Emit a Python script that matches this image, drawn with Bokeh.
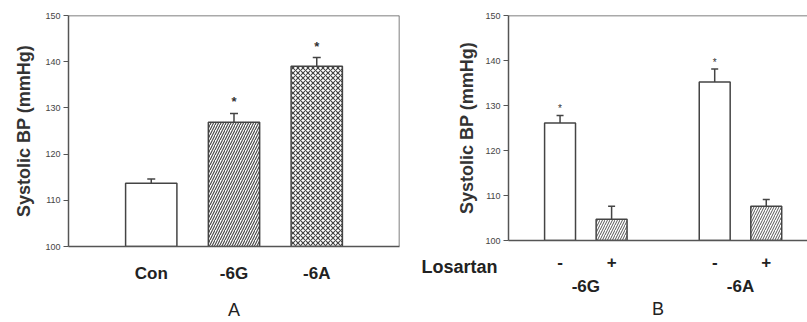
from bokeh.plotting import figure
from bokeh.layouts import row, column
from bokeh.models import (FactorRange, ColumnDataSource, Whisker, TeeHead, Span,
                          FixedTicker, Range1d, LinearAxis)
from bokeh.core.properties import value
from bokeh.embed import file_html
from bokeh.resources import INLINE

# ---- data ----
groups_a = ["Con", "-6G", "-6A"]
bp_a = [113.7, 126.9, 139.0]
err_a = [0.9, 1.9, 1.9]
sig_a = ["", "*", "*"]
hatch_a = [" ", "/", "x"]

genes_b = ["-6G", "-6G", "-6A", "-6A"]
losartan_b = ["-", "+", "-", "+"]
bp_b = [126.1, 104.7, 135.2, 107.6]
err_b = [1.7, 2.9, 2.9, 1.5]
sig_b = ["*", "", "*", ""]
hatch_b = [" ", "/", " ", "/"]
treatment_label = "Losartan"

y_ticks = [100, 110, 120, 130, 140, 150]

FONT = "Liberation Sans"
AXC = "#555555"


def style(p):
    p.outline_line_color = None
    p.xgrid.grid_line_color = None
    p.ygrid.grid_line_color = None
    p.yaxis.ticker = FixedTicker(ticks=y_ticks)
    p.yaxis.minor_tick_line_color = None
    p.yaxis.major_tick_out = 5
    p.yaxis.major_tick_in = 0
    p.yaxis.major_label_text_font = FONT
    p.yaxis.major_label_text_font_size = "9px"
    p.yaxis.major_label_text_color = "#444444"
    p.yaxis.major_label_standoff = 3
    p.yaxis.axis_label = "Systolic BP (mmHg)"
    p.yaxis.axis_label_text_font = FONT
    p.yaxis.axis_label_text_font_size = "18px"
    p.yaxis.axis_label_text_font_style = "bold"
    p.yaxis.axis_label_text_color = "#333333"
    p.yaxis.axis_label_standoff = 5
    for ax in (p.xaxis, p.yaxis):
        ax.axis_line_color = AXC
        ax.axis_line_width = 1.5
        ax.major_tick_line_color = AXC
    p.xaxis.major_tick_line_color = None
    p.xaxis.major_tick_out = 0
    p.xaxis.minor_tick_line_color = None
    p.xaxis.major_label_text_font = FONT
    p.xaxis.major_label_text_font_size = "17px"
    p.xaxis.major_label_text_font_style = "bold"
    p.xaxis.major_label_text_color = "#222222"
    p.xaxis.axis_label_text_font = FONT
    p.xaxis.axis_label_text_font_size = "18px"
    p.xaxis.axis_label_text_font_style = "normal"
    p.xaxis.axis_label_text_color = "#222222"


# ---- panel A ----
src_a = ColumnDataSource(dict(x=groups_a, top=bp_a,
                              up=[b + e for b, e in zip(bp_a, err_a)],
                              sig=sig_a, hatch=hatch_a))
pa = figure(x_range=FactorRange(*groups_a, range_padding=0.5, range_padding_units="absolute"),
            y_range=(100, 150), width=400, height=322,
            min_border_left=68, min_border_right=1, min_border_top=15, min_border_bottom=75,
            output_backend="svg", toolbar_location=None)
pa.vbar(x="x", top="top", bottom=100, width=0.62, source=src_a,
        fill_color="white", line_color="#444444", line_width=1.5,
        hatch_pattern="hatch", hatch_color="#444444", hatch_scale=5, hatch_weight=1.1)
pa.add_layout(Whisker(base="x", lower="top", upper="up", source=src_a,
                      line_color="#444444", line_width=1.5,
                      upper_head=TeeHead(size=8, line_color="#444444", line_width=1.5),
                      lower_head=None))
pa.text(x="x", y="up", text="sig", source=src_a, text_align="center", text_baseline="bottom",
        y_offset=-4, text_font=value(FONT), text_font_size="13px", text_font_style="bold",
        text_color="#333333")
pa.add_layout(Span(location=150, dimension="width", line_color=AXC, line_width=1.5))
pa.add_layout(Span(location=3.5, dimension="height", line_color=AXC, line_width=1.5))
style(pa)
pa.yaxis.axis_label_standoff = 8
pa.xaxis.major_label_standoff = 17
pa.xaxis.axis_label = "A"
pa.xaxis.axis_label_standoff = 14

# ---- panel B ----
# bar positions: groups separated by one empty slot
x_b = [genes_b.index(g) // 2 * 3 + i % 2 + 1 for i, g in enumerate(genes_b)]
src_b = ColumnDataSource(dict(x=x_b, top=bp_b,
                              up=[b + e for b, e in zip(bp_b, err_b)],
                              sig=sig_b, hatch=hatch_b))
pb = figure(x_range=Range1d(0, 5.8), y_range=(100, 150), width=407, height=322,
            min_border_left=108, min_border_right=0, min_border_top=15, min_border_bottom=82,
            output_backend="svg", toolbar_location=None)
pb.vbar(x="x", top="top", bottom=100, width=0.6, source=src_b,
        fill_color="white", line_color="#444444", line_width=1.5,
        hatch_pattern="hatch", hatch_color="#555555", hatch_scale=5, hatch_weight=1)
pb.add_layout(Whisker(base="x", lower="top", upper="up", source=src_b,
                      line_color="#444444", line_width=1.5,
                      upper_head=TeeHead(size=7, line_color="#444444", line_width=1.5),
                      lower_head=None))
pb.text(x="x", y="up", text="sig", source=src_b, text_align="center", text_baseline="bottom",
        y_offset=-1, text_font=value(FONT), text_font_size="10px", text_color="#333333")
pb.add_layout(Span(location=150, dimension="width", line_color=AXC, line_width=1.5))
style(pb)
pb.xaxis.ticker = FixedTicker(ticks=x_b)
pb.xaxis.major_label_overrides = {x: s for x, s in zip(x_b, losartan_b)}
pb.xaxis.major_label_standoff = 15

# second row of x labels: gene groups, centred under their bars
gene_names = list(dict.fromkeys(genes_b))
gene_pos = [sum(x for x, g in zip(x_b, genes_b) if g == n) / genes_b.count(n) for n in gene_names]
gax = LinearAxis(ticker=FixedTicker(ticks=gene_pos),
                 major_label_overrides={p_: n for p_, n in zip(gene_pos, gene_names)},
                 axis_line_color=None, major_tick_line_color=None, minor_tick_line_color=None,
                 major_tick_out=0, major_label_standoff=6,
                 major_label_text_font=FONT, major_label_text_font_size="17px",
                 major_label_text_font_style="bold", major_label_text_color="#222222",
                 axis_label="B", axis_label_standoff=0, axis_label_text_font=FONT,
                 axis_label_text_font_size="18px", axis_label_text_font_style="normal",
                 axis_label_text_color="#222222")
pb.add_layout(gax, "below")

# row title "Losartan": left of the -/+ row, as a label of an outer left axis at the baseline
lax = LinearAxis(ticker=FixedTicker(ticks=[y_ticks[0]]),
                 major_label_overrides={y_ticks[0]: "\n\n" + treatment_label},
                 axis_line_color=None, major_tick_line_color=None, minor_tick_line_color=None,
                 major_tick_out=0, major_tick_in=0, major_label_standoff=-43,
                 major_label_orientation="horizontal", major_label_text_line_height=1.33,
                 major_label_text_font=FONT, major_label_text_font_size="18px",
                 major_label_text_font_style="bold", major_label_text_color="#222222")
pb.add_layout(lax, "left")

layout = row(column(pa), column(pb))
open("out.html", "w").write(file_html(layout, INLINE))
